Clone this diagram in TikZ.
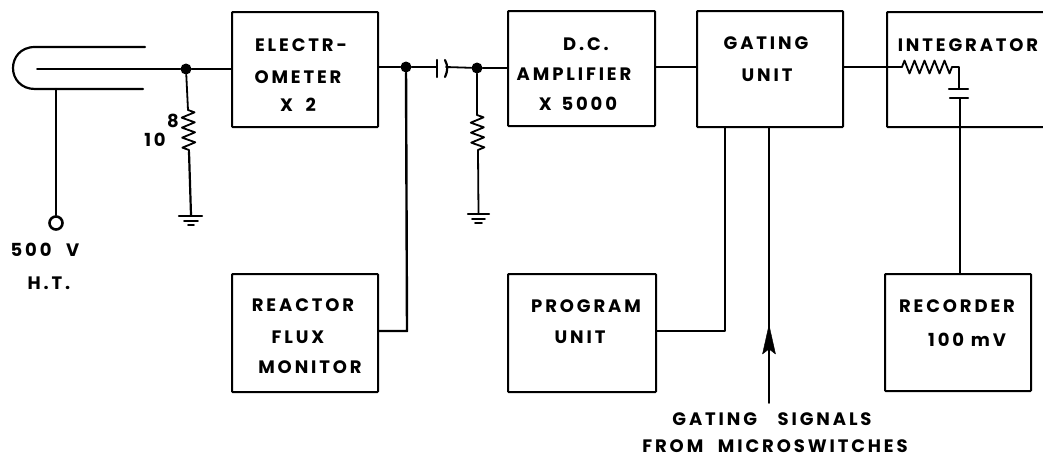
\documentclass[tikz,border=0pt]{standalone}
\usepackage{fontspec}
\setmainfont{Poppins}[LetterSpace=16]
\usetikzlibrary{decorations.pathmorphing,arrows.meta}
\tikzset{
  x=1pt,y=-1pt,
  wire/.style={line width=1.8pt,line cap=round,line join=round},
  blk/.style={draw,line width=2pt,rounded corners=0.8pt,inner sep=0pt},
  lbl/.style={inner sep=0pt,font=\fontsize{18}{18}\selectfont\bfseries},
  dot/.style={circle,fill=black,inner sep=0pt,minimum size=11pt},
  res/.style={decorate,decoration={zigzag,segment length=10pt,amplitude=6.5pt}},
  plate/.style={line width=2.2pt,line cap=round},
}
\begin{document}
\begin{tikzpicture}
\useasboundingbox (0,0) rectangle (1043,458);
% blocks
\node[blk,minimum width=146pt,minimum height=115pt] (elec) at (305,69.5) {};
\node[blk,minimum width=147pt,minimum height=115pt] (amp) at (581.5,68.5) {};
\node[blk,minimum width=146pt,minimum height=116pt] (gate) at (770,69) {};
\node[blk,minimum width=146pt,minimum height=118pt] (flux) at (305,333) {};
\node[blk,minimum width=148pt,minimum height=118pt] (prog) at (582,333) {};
\node[blk,minimum width=146pt,minimum height=117pt] (rec) at (958,332.5) {};
% integrator (runs off the right edge)
\coordinate (it) at (1043,12);
\coordinate (ib) at (1043,127);
\draw[blk] (it) -- (887,12) -- (887,127) -- (ib);
% labels
\node[lbl] (t1) at (301,45) {ELECTR-};
\node[lbl] (t2) at (298,77) {OMETER};
\node[lbl] (t3) at (298,105) {X\hspace{6pt} 2};
\node[lbl] (t4) at (586,44) {D.C.};
\node[lbl] (t5) at (574,74) {AMPLIFIER};
\node[lbl] (t6) at (578,104) {X\hspace{3pt} 5000};
\node[lbl] (t7) at (766,43) {GATING};
\node[lbl] (t8) at (767,75) {UNIT};
\node[lbl] (t9) at (968,45) {INTEGRATOR};
\node[lbl] (t10) at (303,305) {REACTOR};
\node[lbl] (t11) at (298,337) {FLUX};
\node[lbl] (t12) at (310,367) {MONITOR};
\node[lbl] (t13) at (586,306) {PROGRAM};
\node[lbl] (t14) at (580,337) {UNIT};
\node[lbl] (t15) at (957,306) {RECORDER};
\node[lbl] (t16) at (967,340) {100 mV};
\node[lbl] (t17) at (772,419) {GATING\hspace{14pt} SIGNALS};
\node[lbl] (t18) at (775,446) {FROM\hspace{8pt} MICROSWITCHES};
\node[lbl] (t19) at (45,250) {500\hspace{8pt} V};
\node[lbl] (t20) at (49,283) {H.T.};
\node[lbl] (t21) at (155,140) {10};
\node[lbl] (t22) at (173,121) {8};
% tube
\coordinate (tubeTopEnd) at (145,47);
\coordinate (tubeBotEnd) at (143,89);
\coordinate (tubeIn) at (37,69);
\coordinate (htTop) at (56,89);
\draw[wire,line width=2.2pt] (tubeTopEnd) -- (35,47) .. controls (20,47) and (13,58) .. (13,68) .. controls (13,79) and (21,89) .. (35,89) -- (tubeBotEnd);
\node[dot] (j1) at (186,69) {};
\draw[wire] (tubeIn) -- (j1);
\draw[wire,line width=2.2pt] (j1) -- (elec.west |- j1);
\node[circle,draw,line width=2.6pt,minimum size=13pt,inner sep=0pt] (ht) at (56,223) {};
\draw[wire,line width=2.2pt] (htTop) -- (ht);
% first resistor and earth
\coordinate (r1a) at (188,110);
\coordinate (r1b) at (189,152);
\coordinate (g1) at (191,215);
\draw[wire] (j1) -- (r1a);
\draw[wire,res] (r1a) -- (r1b);
\draw[wire,line width=2.2pt] (r1b) -- (g1);
\draw[plate] (179,216) -- (202,216);
\draw[plate,line width=1.8pt] (184,221) -- (198,221);
\draw[plate,line width=1.8pt] (188,225) -- (194,225);
% coupling chain
\node[dot] (j2) at (406,67) {};
\draw[wire] (elec.east |- j2) -- (j2);
\coordinate (c1) at (437,67);
\coordinate (c2) at (446,67);
\node[dot] (j3) at (477,68) {};
\draw[wire] (j2) -- (c1);
\draw[wire] (c2) -- (j3);
\draw[plate] (437,60) -- (437,77);
\draw[plate] (445,60) .. controls (448,66) and (448,70) .. (445,77);
\draw[wire] (j3) -- (amp.west |- j3);
% flux monitor line
\coordinate (fc) at (407,331);
\draw[wire,line width=2.4pt] (j2) -- (fc) -- (flux.east |- fc);
% second resistor and earth
\coordinate (r2a) at (477,115);
\coordinate (r2b) at (478,152);
\coordinate (g2) at (478.5,213);
\draw[wire] (j3) -- (r2a);
\draw[wire,res] (r2a) -- (r2b);
\draw[wire] (r2b) -- (g2);
\draw[plate] (468,214) -- (489,214);
\draw[plate,line width=1.8pt] (472,219) -- (485,219);
\draw[plate,line width=1.8pt] (475,223) -- (482,223);
% amp to gate to integrator
\draw[wire] (amp.east |- 0,67) -- (gate.west |- 0,67);
\coordinate (r3a) at (902,67);
\coordinate (r3b) at (952,67);
\coordinate (r3c) at (959,67);
\coordinate (cp1) at (959,89);
\coordinate (cp2) at (960,98);
\draw[wire] (gate.east |- r3a) -- (r3a);
\draw[wire,res] (r3a) -- (r3b);
\draw[wire] (r3b) -- (r3c) -- (cp1);
\draw[plate] (949,89) -- (968,89);
\draw[plate] (950,98) -- (968,98);
\draw[wire] (cp2) -- (rec.north -| cp2);
% program unit to gating unit
\coordinate (pc) at (725,331);
\draw[wire] (gate.south -| pc) -- (pc) -- (prog.east |- pc);
% gating signals arrow
\coordinate (as) at (769,403);
\coordinate (atip) at (769,325);
\draw[wire] (as) -- (gate.south -| as);
\draw[fill=black,line join=round] (atip) -- (775.5,354) -- (769,349) -- (762.5,354) -- cycle;
\end{tikzpicture}
\end{document}
